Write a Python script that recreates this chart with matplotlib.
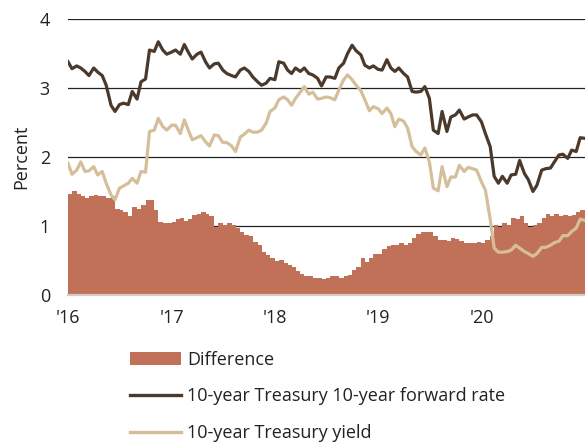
#! /usr/bin/env python3

""" 10-year Treasury yield vs. 10-year forward rate, with the difference as bars.
"""

import pandas as pd
import matplotlib
matplotlib.use("Agg")
from matplotlib import pyplot as plt
from matplotlib.patches import Patch
from matplotlib.lines import Line2D

plt.rcParams["font.family"] = ["Open Sans", "DejaVu Sans"]

# semi-monthly observations, Jan 2016 .. Jan 2021
dates = pd.date_range("2016-01-01", periods=121, freq="SMS")

forward_rate = [
    3.38, 3.28, 3.32, 3.29, 3.24, 3.18, 3.29, 3.23, 3.18, 3.04,
    2.75, 2.66, 2.76, 2.78, 2.76, 2.95, 2.84, 3.09, 3.13, 3.55,
    3.53, 3.67, 3.55, 3.49, 3.52, 3.55, 3.49, 3.63, 3.52, 3.42,
    3.49, 3.52, 3.38, 3.29, 3.35, 3.36, 3.26, 3.21, 3.18, 3.16,
    3.26, 3.29, 3.24, 3.16, 3.09, 3.04, 3.07, 3.14, 3.12, 3.38,
    3.36, 3.26, 3.21, 3.29, 3.24, 3.29, 3.21, 3.19, 3.14, 3.03,
    3.16, 3.16, 3.14, 3.29, 3.36, 3.50, 3.62, 3.54, 3.48, 3.33,
    3.29, 3.32, 3.27, 3.26, 3.41, 3.29, 3.24, 3.29, 3.21, 3.16,
    2.95, 2.94, 2.95, 3.02, 2.85, 2.39, 2.34, 2.66, 2.37, 2.58,
    2.61, 2.68, 2.55, 2.58, 2.61, 2.61, 2.51, 2.34, 2.15, 1.72,
    1.62, 1.72, 1.62, 1.74, 1.75, 1.95, 1.76, 1.67, 1.50, 1.59,
    1.81, 1.83, 1.84, 1.93, 2.03, 2.04, 1.98, 2.10, 2.08, 2.28,
    2.27,
]

treasury_yield = [
    1.91, 1.75, 1.81, 1.93, 1.79, 1.80, 1.86, 1.74, 1.79, 1.62,
    1.45, 1.38, 1.55, 1.58, 1.62, 1.69, 1.62, 1.79, 1.78, 2.37,
    2.39, 2.56, 2.44, 2.39, 2.46, 2.46, 2.34, 2.54, 2.39, 2.25,
    2.28, 2.31, 2.22, 2.16, 2.32, 2.31, 2.21, 2.21, 2.16, 2.08,
    2.29, 2.33, 2.39, 2.36, 2.36, 2.39, 2.49, 2.66, 2.71, 2.83,
    2.87, 2.83, 2.75, 2.85, 2.94, 3.02, 2.91, 2.94, 2.84, 2.85,
    2.87, 2.86, 2.83, 2.97, 3.12, 3.19, 3.12, 3.04, 2.96, 2.83,
    2.67, 2.73, 2.70, 2.63, 2.71, 2.63, 2.44, 2.55, 2.52, 2.42,
    2.15, 2.08, 2.03, 2.13, 1.93, 1.55, 1.51, 1.86, 1.57, 1.71,
    1.71, 1.88, 1.79, 1.85, 1.83, 1.81, 1.64, 1.52, 1.10, 0.68,
    0.62, 0.62, 0.63, 0.65, 0.72, 0.68, 0.63, 0.60, 0.56, 0.60,
    0.69, 0.69, 0.72, 0.76, 0.78, 0.86, 0.86, 0.92, 0.97, 1.10,
    1.08,
]

difference = [
    1.47, 1.51, 1.47, 1.43, 1.40, 1.43, 1.45, 1.43, 1.43, 1.41,
    1.43, 1.25, 1.23, 1.21, 1.14, 1.28, 1.25, 1.30, 1.38, 1.38,
    1.23, 1.06, 1.05, 1.04, 1.06, 1.10, 1.11, 1.07, 1.10, 1.16,
    1.18, 1.20, 1.17, 1.14, 0.99, 1.04, 1.01, 1.04, 1.02, 0.97,
    0.92, 0.87, 0.85, 0.77, 0.72, 0.62, 0.58, 0.53, 0.49, 0.51,
    0.47, 0.44, 0.40, 0.35, 0.31, 0.27, 0.27, 0.24, 0.24, 0.23,
    0.24, 0.27, 0.28, 0.25, 0.27, 0.29, 0.36, 0.41, 0.53, 0.48,
    0.53, 0.59, 0.60, 0.67, 0.71, 0.72, 0.72, 0.75, 0.73, 0.76,
    0.82, 0.89, 0.92, 0.91, 0.91, 0.85, 0.80, 0.80, 0.78, 0.82,
    0.81, 0.78, 0.76, 0.75, 0.76, 0.77, 0.76, 0.80, 0.85, 1.01,
    0.99, 1.04, 1.01, 1.11, 1.10, 1.14, 1.04, 0.99, 1.01, 1.04,
    1.11, 1.17, 1.14, 1.17, 1.15, 1.16, 1.15, 1.16, 1.20, 1.23,
    1.23,
]

year_ticks = ["2016-01-01", "2017-01-01", "2018-01-01", "2019-01-01", "2020-01-01"]
year_labels = ["'16", "'17", "'18", "'19", "'20"]

labels = ["Difference", "10-year Treasury 10-year forward rate", "10-year Treasury yield"]

BAR_COLOR = "#c07157"
FWD_COLOR = "#4b3a2c"
YLD_COLOR = "#d4bf9a"
TEXT_COLOR = "#222222"

fig = plt.figure(figsize=(5.85, 4.45), dpi=100)
ax = fig.add_axes([68 / 585, 150 / 445, 517 / 585, 276 / 445])

# difference drawn as a stepped area (bar look)
ax.fill_between(dates, difference, step="post", color=BAR_COLOR, linewidth=0, zorder=2)
ax.plot(dates, treasury_yield, color=YLD_COLOR, lw=2.3, zorder=3)
ax.plot(dates, forward_rate, color=FWD_COLOR, lw=2.3, zorder=4)

ax.set_xlim(pd.Timestamp("2016-01-01"), pd.Timestamp("2021-01-01"))
ax.set_ylim(0, 4)
ax.set_yticks([0, 1, 2, 3, 4])
ax.set_xticks(pd.to_datetime(year_ticks))
ax.set_xticklabels(year_labels)
ax.yaxis.grid(True, color=TEXT_COLOR, lw=0.9)
ax.set_axisbelow(True)
ax.tick_params(axis="both", length=0, labelsize=13, colors=TEXT_COLOR)
ax.tick_params(axis="y", pad=13)
ax.tick_params(axis="x", pad=10)
for side in ["top", "right", "left"]:
    ax.spines[side].set_visible(False)
ax.spines["bottom"].set_color("#d6cdc8")
ax.spines["bottom"].set_linewidth(1.6)

fig.text(21 / 585, 1 - 157 / 445, "Percent", rotation=90, ha="center", va="center",
         fontsize=13, color=TEXT_COLOR)

handles = [
    Patch(facecolor=BAR_COLOR, edgecolor="none"),
    Line2D([], [], color=FWD_COLOR, lw=2.4),
    Line2D([], [], color=YLD_COLOR, lw=2.4),
]
fig.legend(handles, labels, loc="upper left", bbox_to_anchor=(130 / 585, 1 - 351 / 445),
           frameon=False, fontsize=13, handlelength=2.85, handleheight=0.7,
           handletextpad=0.3, labelspacing=1.02, borderpad=0, borderaxespad=0,
           labelcolor=TEXT_COLOR)

fig.savefig("out.png", dpi=100)
